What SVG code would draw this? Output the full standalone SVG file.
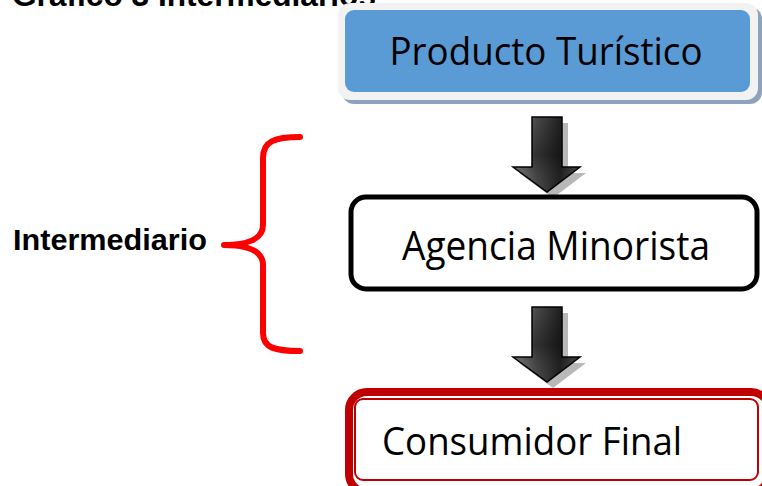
<svg xmlns="http://www.w3.org/2000/svg" width="762" height="486" viewBox="0 0 762 486">
<defs>
<style>
.title{font-family:"Liberation Sans",Arial,sans-serif;font-weight:bold;fill:#000}
.box{font-family:"Open Sans","Noto Sans",sans-serif;fill:#000}
.brace{fill:none;stroke:#FF0000;stroke-width:6;stroke-linecap:round;stroke-linejoin:round}
</style>
<linearGradient id="shaft" x1="0" y1="0" x2="1" y2="0">
<stop offset="0" stop-color="#8a8a8a"/>
<stop offset="0.35" stop-color="#4a4a4a"/>
<stop offset="0.7" stop-color="#222"/>
<stop offset="1" stop-color="#555"/>
</linearGradient>
<linearGradient id="shaftV" x1="0" y1="0" x2="0" y2="1">
<stop offset="0" stop-color="#000" stop-opacity="0"/>
<stop offset="0.5" stop-color="#000" stop-opacity="0.35"/>
<stop offset="0.75" stop-color="#000" stop-opacity="0.1"/>
<stop offset="1" stop-color="#000" stop-opacity="0"/>
</linearGradient>
<g id="arrow">
<polygon points="538,123 568,123 568,173 586,173 553,198 519,173 538,173" fill="#9a9a9a" opacity="0.7"/>
<polygon points="532,117 562,117 562,167 580,167 547,192 513,167 532,167" fill="url(#shaft)" stroke="#000" stroke-width="1.5"/>
<polygon points="532,117 562,117 562,167 580,167 547,192 513,167 532,167" fill="url(#shaftV)"/>
</g>
</defs>
<rect width="762" height="486" fill="#fff"/>
<text class="title" x="12" y="6" font-size="31" textLength="364" lengthAdjust="spacingAndGlyphs">Gráfico 3 Intermediarios</text>

<g id="connectors">
<use href="#arrow"/>
<use href="#arrow" transform="translate(0,190)"/>
</g>

<g id="producto">
<rect x="342" y="7" width="420" height="97" rx="12" fill="#8EA2BC"/>
<rect x="338" y="3" width="420" height="97" rx="12" fill="#F2F2F2"/>
<rect x="345" y="10" width="405" height="82" rx="9" fill="#5B9BD5"/>
<text class="box" x="546" y="65" font-size="39" text-anchor="middle" textLength="313" lengthAdjust="spacingAndGlyphs">Producto Turístico</text>
</g>

<g id="agencia">
<rect x="351" y="197" width="406" height="92" rx="15" fill="#fff" stroke="#000" stroke-width="5"/>
<text class="box" x="556" y="260" font-size="40" text-anchor="middle" textLength="308" lengthAdjust="spacingAndGlyphs">Agencia Minorista</text>
</g>

<g id="consumidor">
<rect x="349" y="392" width="420" height="100" rx="18" fill="#fff" stroke="#C00000" stroke-width="8"/>
<rect x="355" y="399" width="403" height="81" rx="8" fill="none" stroke="#C00000" stroke-width="2"/>
<text class="box" x="382" y="455" font-size="39" textLength="300" lengthAdjust="spacingAndGlyphs">Consumidor Final</text>
</g>

<g id="intermediario">
<path class="brace" d="M300,137 C275,137 263,141 263,158 L263,225 C263,240 245,245 224,245 C245,245 263,250 263,265 L263,333 C263,348 275,351 300,351"/>
<text class="title" x="13" y="250" font-size="30" textLength="194" lengthAdjust="spacingAndGlyphs">Intermediario</text>
</g>
</svg>
